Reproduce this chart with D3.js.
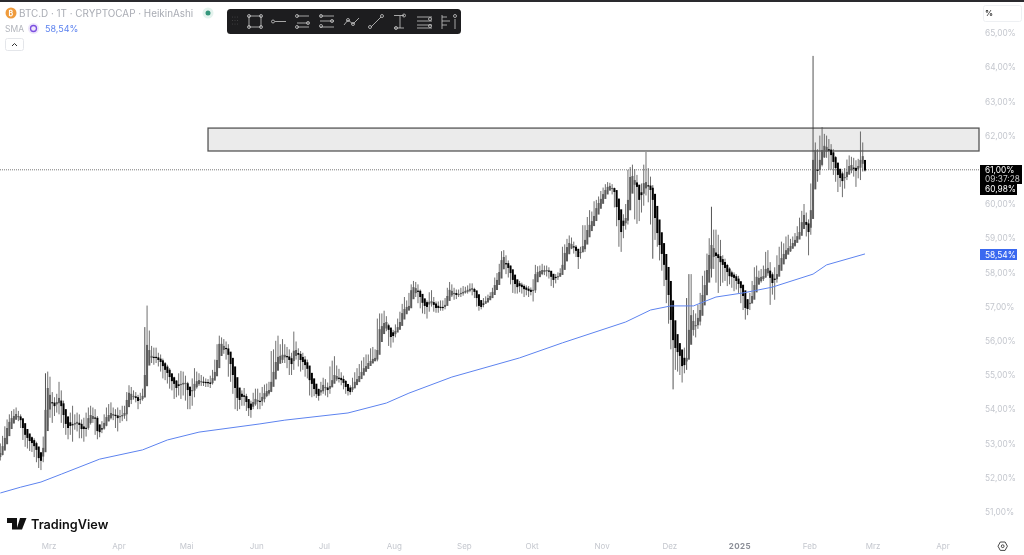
<!DOCTYPE html>
<html><head><meta charset="utf-8">
<script src="https://cdn.jsdelivr.net/npm/d3@7"></script>
<style>
html,body{margin:0;padding:0;background:#fff;overflow:hidden}
svg{display:block;font-family:Inter,"Noto Sans",sans-serif;filter:blur(.3px)}
</style></head><body><svg id="c" width="1024" height="555"></svg>
<script>
const title="BTC.D · 1T · CRYPTOCAP · HeikinAshi";
const firstDay=Date.UTC(2024,1,8);
const firstOpen=52.6;
const closes=[52.72,52.92,53.16,53.45,53.63,53.74,53.80,53.86,53.80,53.68,
53.45,53.25,53.16,53.07,53.01,52.92,52.81,52.57,52.49,52.87,
53.98,54.62,54.42,54.18,54.09,54.21,54.33,54.09,53.83,53.57,
53.45,53.51,53.54,53.60,53.63,53.54,53.42,53.42,53.45,53.74,
53.83,53.80,53.74,53.36,53.33,53.42,53.60,53.77,53.83,53.89,
53.86,53.80,53.74,53.80,53.83,53.89,54.27,54.48,54.45,54.39,
54.33,54.24,54.30,54.39,55.00,55.88,55.73,55.56,55.53,55.50,
55.44,55.38,55.26,55.15,55.06,54.94,54.82,54.74,54.62,54.68,
54.74,54.77,54.77,54.56,54.39,54.56,54.74,54.82,54.85,54.82,
54.79,54.79,54.77,54.74,54.91,55.09,55.44,55.91,55.91,55.85,
55.76,55.59,55.32,55.00,54.62,54.33,54.27,54.36,54.36,54.21,
54.03,53.98,54.21,54.30,54.27,54.21,
54.36,54.47,54.53,54.56,54.80,55.09,55.38,55.53,55.56,55.59,55.59,55.53,55.44,55.32,
55.71,55.73,55.59,55.44,55.38,55.29,55.18,54.85,54.74,54.59,
54.44,54.39,54.56,54.71,54.65,54.56,54.68,54.85,55.00,54.97,
54.91,54.85,54.77,54.65,54.53,54.50,54.65,54.80,54.88,54.97,
55.09,55.20,55.26,55.35,55.41,55.47,55.50,55.73,56.34,56.43,
56.52,56.55,56.32,56.11,56.14,56.29,56.40,56.55,56.81,56.93,
56.99,57.02,57.48,57.57,57.54,57.46,57.28,57.11,57.02,56.99,
57.14,57.16,57.05,56.96,56.96,56.99,56.99,57.05,57.31,57.49,
57.46,57.40,57.34,57.37,57.40,57.43,57.46,57.49,57.52,57.54,
57.43,57.25,57.02,56.99,57.08,57.16,57.25,57.31,57.43,57.63,
57.78,58.01,58.36,58.45,58.27,58.13,57.98,57.78,57.66,57.57,
57.60,57.57,57.51,57.49,57.46,57.43,57.49,57.95,58.01,58.04,
58.07,58.07,58.07,58.04,57.87,57.78,57.84,57.89,57.98,58.22,
58.57,58.74,58.86,58.83,58.74,58.63,58.45,58.60,58.77,58.95,
59.24,59.39,59.50,59.65,59.88,60.03,60.15,60.29,60.41,60.50,
60.53,60.47,60.35,59.91,59.53,59.18,59.36,59.59,60.12,60.79,
60.82,60.70,60.50,60.12,60.26,60.61,60.64,60.53,60.41,60.12,
59.59,59.15,58.80,58.54,58.22,57.78,57.34,56.61,56.02,55.79,
55.67,55.56,55.26,55.29,55.50,56.32,56.75,56.58,56.46,56.67,
56.90,57.34,57.63,58.07,58.51,58.80,58.71,58.48,58.42,58.30,
58.22,58.13,58.01,57.89,57.87,57.84,57.75,57.66,57.54,57.31,
56.96,56.93,57.11,57.31,57.63,57.87,57.84,57.87,57.89,58.10,
58.13,57.84,57.69,57.78,57.95,58.22,58.42,58.54,58.65,58.71,
58.77,58.86,58.95,59.06,59.18,59.47,59.68,59.39,59.18,59.82,
61.29,61.58,60.99,61.29,61.58,61.70,61.67,61.58,61.43,61.23,
61.05,60.85,60.76,60.67,60.79,60.94,61.11,61.14,61.05,60.97,
61.11,61.29,61.40,60.98];
const highs=[53.00,53.22,53.50,53.70,53.85,53.95,54.00,54.05,53.95,53.85,
53.68,53.50,53.35,53.25,53.20,53.15,53.05,52.90,52.75,53.20,
55.05,55.10,54.95,54.50,54.35,54.45,54.80,54.55,54.25,54.00,
53.80,53.90,54.10,53.85,53.90,53.85,53.70,53.75,53.90,54.05,
54.10,54.05,54.00,53.80,53.55,53.65,53.85,54.05,54.15,54.20,
54.05,54.00,54.05,53.98,54.10,54.10,54.50,54.70,54.65,54.55,
54.50,54.42,54.48,54.60,56.40,57.03,56.30,55.85,55.80,55.80,
55.65,55.60,55.48,55.38,55.30,55.20,55.05,54.95,54.85,55.05,
55.12,55.10,54.98,54.80,54.62,54.90,55.20,55.10,55.05,55.00,
54.95,54.90,54.88,54.98,55.15,55.45,55.90,56.15,56.10,56.05,
55.98,55.90,55.65,55.30,54.92,54.62,54.50,54.55,54.62,54.45,
54.28,54.25,54.48,54.60,54.60,54.48,
54.65,54.72,54.75,54.80,55.70,55.75,56.00,56.15,55.90,56.05,55.90,55.82,55.75,55.65,
56.27,55.98,55.78,55.70,55.65,55.55,55.45,55.15,54.98,54.85,
54.68,54.60,54.80,54.92,54.88,54.78,55.25,55.42,55.55,55.28,
55.18,55.08,54.98,54.85,54.72,54.70,54.92,55.08,55.20,55.32,
55.42,55.52,55.60,55.60,55.78,55.82,55.75,56.65,56.80,56.80,
56.88,56.72,56.50,56.30,56.32,56.48,56.65,56.85,57.08,57.28,
57.18,57.40,57.65,57.75,57.72,57.65,57.50,57.30,57.22,57.18,
57.42,57.48,57.28,57.15,57.15,57.18,57.18,57.25,57.55,57.72,
57.65,57.55,57.50,57.50,57.55,57.60,57.58,57.62,57.68,57.68,
57.55,57.40,57.20,57.15,57.25,57.30,57.35,57.42,57.55,57.85,
57.98,58.25,58.62,58.65,58.50,58.35,58.20,58.00,57.85,57.75,
57.75,57.70,57.65,57.62,57.60,57.56,57.80,58.22,58.18,58.20,
58.25,58.20,58.20,58.15,58.00,57.90,57.95,58.00,58.12,58.75,
58.82,58.98,59.08,59.02,58.90,58.80,58.65,58.75,59.38,59.38,
59.62,59.82,59.78,60.08,60.12,60.22,60.38,60.48,60.58,60.64,
60.62,60.58,60.48,60.20,59.85,59.50,59.70,60.00,61.00,61.08,
61.15,61.02,60.85,60.50,60.60,61.15,61.52,61.05,60.80,60.55,
60.25,59.65,59.25,58.90,58.55,58.25,57.80,57.35,56.85,56.25,
55.90,55.85,55.60,55.80,57.25,57.95,57.95,56.90,56.80,57.05,
57.40,57.90,58.05,58.55,59.00,59.92,59.25,59.25,59.10,58.95,
58.50,58.40,58.25,58.15,58.05,58.00,57.95,57.90,57.75,57.60,
57.35,57.20,57.40,57.75,58.15,58.20,58.05,58.10,58.20,58.60,
58.65,58.30,58.00,58.15,58.50,58.75,58.90,58.85,59.05,59.10,
58.98,59.05,59.15,59.35,59.60,59.80,60.00,59.75,59.55,60.60,
64.33,61.80,61.60,62.00,62.25,62.05,62.00,61.90,61.75,61.60,
61.40,61.20,61.02,60.95,61.05,61.30,61.42,61.38,61.35,61.28,
61.32,62.12,61.80,61.28];
const lows=[52.50,52.65,52.85,53.12,53.40,53.55,53.65,53.72,53.65,53.45,
53.10,52.90,52.85,52.78,52.75,52.60,52.45,52.28,52.22,52.45,
52.95,53.50,53.75,53.60,53.80,53.90,53.85,53.60,53.45,53.25,
53.12,53.25,53.05,53.40,53.35,53.15,53.15,53.05,53.20,53.40,
53.55,53.60,53.25,53.12,53.18,53.30,53.40,53.50,53.65,53.70,
53.68,53.45,53.35,53.60,53.65,53.72,53.65,54.10,54.15,54.28,
54.20,54.00,54.15,54.25,54.35,55.05,55.35,55.35,55.30,55.35,
55.25,55.10,54.90,54.85,54.75,54.60,54.55,54.30,54.35,54.40,
54.30,54.40,54.25,54.00,54.00,54.10,54.35,54.60,54.68,54.68,
54.68,54.65,54.65,54.62,54.72,54.90,55.10,55.40,55.65,55.62,
55.45,54.95,54.80,54.45,54.00,53.95,54.00,54.10,54.10,53.95,
53.80,53.75,54.00,54.10,54.00,54.00,
54.10,54.20,54.35,54.40,54.50,54.80,55.10,55.30,55.40,55.35,55.35,55.20,55.00,55.00,
55.15,55.45,55.25,55.10,55.15,54.95,54.90,54.40,54.35,54.38,
54.33,54.25,54.40,54.45,54.40,54.35,54.45,54.65,54.78,54.82,
54.78,54.70,54.58,54.45,54.40,54.42,54.50,54.65,54.72,54.82,
54.95,55.08,55.15,55.20,55.30,55.35,55.40,55.40,55.80,56.15,
56.25,56.28,55.85,55.80,55.95,56.10,56.30,56.40,56.60,56.80,
56.82,56.90,57.00,57.28,57.28,57.10,56.95,56.80,56.78,56.65,
56.85,57.00,56.85,56.82,56.82,56.88,56.88,56.92,57.05,57.28,
57.28,57.20,57.22,57.28,57.28,57.32,57.38,57.38,57.42,57.33,
57.25,57.00,56.88,56.92,56.98,57.08,57.12,57.22,57.28,57.40,
57.60,57.75,57.90,58.22,57.95,57.85,57.65,57.40,57.38,57.38,
57.42,57.38,57.28,57.33,57.28,57.33,57.15,57.40,57.78,57.88,
57.92,57.92,57.88,57.82,57.60,57.55,57.68,57.78,57.88,57.95,
58.20,58.45,58.62,58.68,58.55,58.45,58.10,58.40,58.60,58.60,
58.85,59.18,59.30,59.45,59.60,59.80,59.95,60.10,60.20,60.35,
60.42,60.28,59.90,59.35,58.75,58.60,59.00,59.25,59.40,60.05,
60.35,59.55,59.42,59.50,59.75,59.95,60.25,60.05,59.40,58.40,
58.95,58.75,58.35,58.05,57.60,57.10,56.50,55.75,54.58,55.15,
55.10,55.00,54.78,55.05,55.15,55.65,55.95,56.15,56.10,56.35,
56.45,56.80,57.20,57.60,57.95,57.85,58.10,57.70,57.40,57.60,
57.70,57.75,57.60,57.65,57.55,57.45,57.50,57.40,57.10,56.90,
56.62,56.75,56.90,57.10,57.40,57.60,57.65,57.70,57.75,57.85,
57.90,57.05,57.35,57.20,57.70,57.95,58.20,58.35,58.45,58.55,
58.60,58.70,58.75,58.90,59.00,59.15,59.35,59.05,58.50,59.10,
59.95,60.70,60.65,60.85,61.10,61.35,61.35,61.00,61.00,60.85,
60.65,60.35,60.50,60.20,60.45,60.70,60.85,60.90,60.80,60.50,
60.75,60.70,60.95,60.95];
const smaIndex=[0,9,18,27,44,63,74,88,115,126,154,171,181,200,230,249,277,288,297,307,317,329,336,342,360,366,383];
const smaValues=[51.55,51.72,51.87,52.10,52.54,52.81,53.10,53.33,53.57,53.68,53.89,54.18,54.47,54.94,55.50,55.94,56.55,56.90,57.02,57.02,57.28,57.40,57.49,57.57,57.95,58.22,58.54];
const priceTicks=[65,64,63,62,60,59,58,57,56,55,54,53,52,51];
const monthTicks=[[2024,2,"Mrz"],[2024,3,"Apr"],[2024,4,"Mai"],[2024,5,"Jun"],[2024,6,"Jul"],[2024,7,"Aug"],[2024,8,"Sep"],[2024,9,"Okt"],[2024,10,"Nov"],[2024,11,"Dez"],[2025,0,"2025"],[2025,1,"Feb"],[2025,2,"Mrz"],[2025,3,"Apr"]];
const zoneTop=62.22, zoneBottom=61.55, zoneStart=Date.UTC(2024,4,10);
const lastLine=61.00, lastValue="60,98%", lastCountdown="09:37:28", smaLabel="58,54%";

const DAY=864e5;
const dayDate=i=>new Date(firstDay+i*DAY);
const svg=d3.select("#c");
const paneW=979;
const x=d3.scaleUtc().domain([new Date(firstDay),new Date(Date.UTC(2025,3,1))]).range([0.32,944]);
const y=d3.scaleLinear().domain([65,51]).range([33,511.8]);
const comma=v=>v.toFixed(2).replace(".",",")+"%";

svg.append("rect").attr("width",1024).attr("height",2).attr("fill","#2a2a2e");

svg.append("rect").attr("x",x(new Date(zoneStart))).attr("y",y(zoneTop))
 .attr("width",paneW-x(new Date(zoneStart))).attr("height",y(zoneBottom)-y(zoneTop))
 .attr("fill","#ebebeb").attr("stroke","#555").attr("stroke-width",1.3);

svg.append("line").attr("x1",0).attr("x2",paneW).attr("y1",y(lastLine)).attr("y2",y(lastLine))
 .attr("stroke","#7a7a7a").attr("stroke-width",1).attr("stroke-dasharray","1 1");

const opens=[];closes.forEach((c,i)=>{opens.push(i===0?firstOpen:(opens[i-1]+closes[i-1])/2)});
const candles=closes.map((c,i)=>({d:dayDate(i),o:opens[i],c,h:highs[i],l:lows[i]}));
const g=svg.append("g");
g.selectAll(".w").data(candles).join("line").attr("class","w")
 .attr("x1",d=>x(d.d)).attr("x2",d=>x(d.d)).attr("y1",d=>y(d.h)).attr("y2",d=>y(d.l))
 .attr("stroke",d=>d.h-d.l>2?"#333":"#555").attr("stroke-width",.85);
g.selectAll(".b").data(candles).join("rect").attr("class","b")
 .attr("x",d=>x(d.d)-1).attr("width",2)
 .attr("y",d=>y(Math.max(d.o,d.c))).attr("height",d=>Math.max(1.2,Math.abs(y(d.o)-y(d.c))))
 .attr("fill",d=>d.c>=d.o?"#5c5c5c":"#000");

svg.append("path").attr("fill","none").attr("stroke","#5d83ef").attr("stroke-width",1)
 .attr("d",d3.line().x(d=>x(dayDate(d[0]))).y(d=>y(d[1]))(smaIndex.map((k,i)=>[k,smaValues[i]])));

const ay=svg.append("g").attr("transform","translate(985,0)")
 .call(d3.axisRight(y).tickValues(priceTicks).tickSize(0).tickPadding(0).tickFormat(comma));
ay.select(".domain").remove();
ay.selectAll("text").attr("fill","#c4c7ce").attr("font-size",8.3).attr("font-family","Inter");

const at=svg.append("g").attr("transform","translate(0,543)")
 .call(d3.axisBottom(x).tickValues(monthTicks.map(m=>new Date(Date.UTC(m[0],m[1],1)))).tickSize(0).tickPadding(0)
 .tickFormat((d,i)=>monthTicks[i][2]));
at.select(".domain").remove();
at.selectAll("text").attr("font-size",8).attr("font-family","Inter").attr("dx",-1.5)
 .attr("font-weight",(d,i)=>monthTicks[i][2]==="2025"?700:400)
 .attr("letter-spacing",(d,i)=>monthTicks[i][2]==="2025"?.4:0)
 .attr("fill",(d,i)=>monthTicks[i][2]==="2025"?"#8a8d96":"#c4c7ce");

const T=(s,xx,yy,o={})=>svg.append("text").attr("x",xx).attr("y",yy).text(s)
 .attr("font-size",o.size||8.3).attr("fill",o.fill||"#fff").attr("font-family","Inter")
 .attr("font-weight",o.weight||400).attr("text-anchor",o.anchor||"start");
svg.append("rect").attr("x",980).attr("y",165).attr("width",42).attr("height",19).attr("fill","#000");
svg.append("rect").attr("x",980).attr("y",184).attr("width",37).attr("height",11).attr("fill","#000");
T(comma(lastLine),985,172.8);
T(lastCountdown,985,181.5,{fill:"#c9c9c9"});
T(lastValue,985,191.8);
svg.append("rect").attr("x",980).attr("y",249).attr("width",37).attr("height",11).attr("fill","#3a68f0");
T(smaLabel,985,257.5);

svg.append("rect").attr("x",983.5).attr("y",5.5).attr("width",38).attr("height",16).attr("rx",2).attr("fill","#fff").attr("stroke","#eef0f3");
T("%",985,16,{fill:"#333",size:8,weight:600});

svg.append("circle").attr("cx",11).attr("cy",13).attr("r",5.5).attr("fill","#ef9b3c");
T("₿",8.5,16,{size:7,fill:"#fff",weight:700});
T(title,19,16.5,{fill:"#a9acb4",size:9.9});
svg.append("circle").attr("cx",208).attr("cy",13).attr("r",5.5).attr("fill","#e4f3ee");
svg.append("circle").attr("cx",208).attr("cy",13).attr("r",2.5).attr("fill","#35977c");
T("SMA",5,31.5,{fill:"#b2b5bc",size:8.5});
svg.append("circle").attr("cx",33.5).attr("cy",28.5).attr("r",5.5).attr("fill","#eee6fb");
svg.append("circle").attr("cx",33.5).attr("cy",28.5).attr("r",3).attr("fill","none").attr("stroke","#7b4fe0").attr("stroke-width",1.3);
T(smaLabel,45,31.5,{fill:"#5d83ef",size:9});
svg.append("rect").attr("x",5.5).attr("y",38.5).attr("width",18).attr("height",12).attr("rx",2).attr("fill","#fff").attr("stroke","#e4e6ea");
svg.append("path").attr("d","M12 46 l2.5 -2.5 l2.5 2.5").attr("fill","none").attr("stroke","#333").attr("stroke-width",1);

svg.append("rect").attr("x",227).attr("y",9).attr("width",234).attr("height",25).attr("rx",3.5).attr("fill","#1d1d1f");
const tb=svg.append("g").attr("fill","none").attr("stroke","#c9c9c9").attr("stroke-width",.8);
[0,1,2].forEach(c=>[0,1,2].forEach(r=>svg.append("circle").attr("cx",232.5+c*2.5).attr("cy",17+r*3.5).attr("r",.4).attr("fill","#666")));
const dot=(a,b)=>tb.append("circle").attr("cx",a).attr("cy",b).attr("r",1.5);
const ln=(a,b,c,d)=>tb.append("line").attr("x1",a).attr("y1",b).attr("x2",c).attr("y2",d);
tb.append("rect").attr("x",249).attr("y",16).attr("width",12).attr("height",11);[[249,16],[261,16],[249,27],[261,27]].forEach(p=>dot(...p));
ln(275,21.5,286,21.5);dot(273,21.5);
[[297,16,309],[297,23,309],[297,27,309]].forEach(a=>ln(a[0],a[1],a[2],a[1]));dot(297,16);dot(308,23);dot(297,27);
[[320,16,334],[320,21,334],[320,27,334]].forEach(a=>ln(a[0],a[1],a[2],a[1]));dot(321,16);dot(332,21);dot(321,26);
tb.append("polyline").attr("points","344,25 348,20 353,24 359,18");dot(348,20);dot(353,24);
ln(371,27,381,17);dot(370,27);dot(382,16);
ln(394,15.5,404,15.5);ln(394,28,404,28);ln(400,16,400,28);dot(396,28);dot(404,15.5);
[17,21,25,28].forEach(v=>ln(417,v,432,v));dot(430,19);dot(430,26);
ln(442,15,442,29);[[442,17,447],[442,21,450],[442,25,447]].forEach(a=>ln(a[0],a[1],a[2],a[1]));
ln(455,19,455,29);dot(455,16);

svg.append("path").attr("fill","#111").attr("d","M7 518 H17 V529.5 H12 V523 H7 Z M20 518 H26.5 L22 529.5 H16.5 Z");
T("TradingView",31,528.7,{fill:"#111",size:12.7,weight:600});

svg.append("path").attr("d","M1000.3 542 h4.8 l2.3 4.2 l-2.3 4.2 h-4.8 l-2.3 -4.2 z").attr("fill","none").attr("stroke","#333").attr("stroke-width",.9);
svg.append("circle").attr("cx",1002.7).attr("cy",546.2).attr("r",1.4).attr("fill","none").attr("stroke","#333").attr("stroke-width",.9);
</script></body></html>
